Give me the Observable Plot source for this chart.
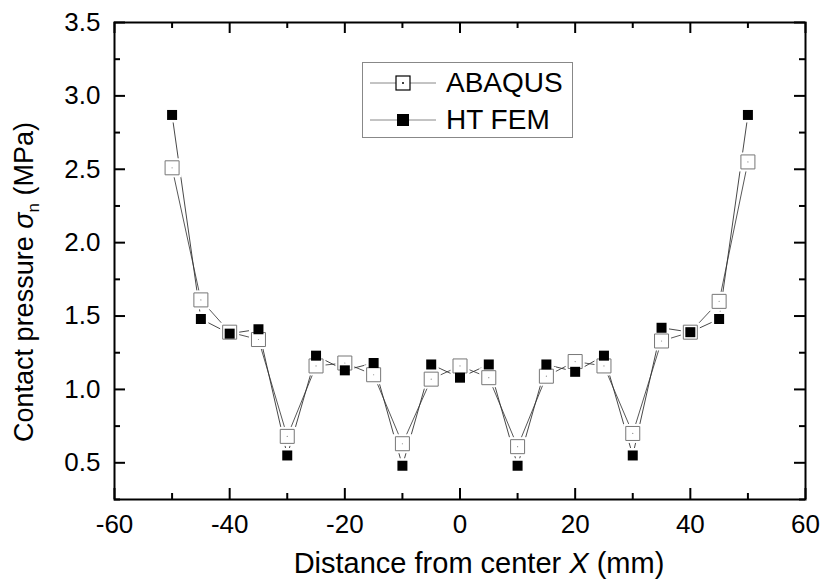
<!DOCTYPE html>
<html>
<head>
<meta charset="utf-8">
<script src="https://cdn.jsdelivr.net/npm/d3@7"></script>
<script src="https://cdn.jsdelivr.net/npm/@observablehq/plot@0.6"></script>
<style>
  html, body { margin: 0; padding: 0; background: #fff; }
  #wrap { position: relative; width: 822px; height: 580px; font-family: "Liberation Sans", Arial, Helvetica, sans-serif; }
  #legend { position: absolute; left: 362px; top: 62px; width: 209px; height: 74px; border: 1px solid #888; background: #fff; }
  #legend .row { position: absolute; left: 0; height: 36px; display: flex; align-items: center; }
  #legend .lab { font-size: 28px; color: #000; margin-left: 10px; line-height: 1; }
</style>
</head>
<body>
<div id="wrap"></div>
<script>
// ---- data ----
const xPos = [-50, -45, -40, -35, -30, -25, -20, -15, -10, -5, 0, 5, 10, 15, 20, 25, 30, 35, 40, 45, 50];
const abaqus = [2.51, 1.61, 1.39, 1.34, 0.68, 1.16, 1.18, 1.10, 0.63, 1.07, 1.16, 1.08, 0.61, 1.09, 1.19, 1.16, 0.70, 1.33, 1.39, 1.60, 2.55];
const htfem  = [2.87, 1.48, 1.38, 1.41, 0.55, 1.23, 1.13, 1.18, 0.48, 1.17, 1.08, 1.17, 0.48, 1.17, 1.12, 1.23, 0.55, 1.42, 1.39, 1.48, 2.87];
const seriesNames = ["ABAQUS", "HT FEM"];
const xMajor = [-60, -40, -20, 0, 20, 40, 60];
const xMinor = [-50, -30, -10, 10, 30, 50];
const yMajor = [0.5, 1.0, 1.5, 2.0, 2.5, 3.0, 3.5];
const yMinor = [0.25, 0.75, 1.25, 1.75, 2.25, 2.75, 3.25];
const xDomain = [-60, 60];
const yDomain = [0.25, 3.5];

// ---- layout ----
const W = 822, H = 580;
const mL = 114, mR = 17, mT = 22, mB = 81;
const fw = W - mL - mR, fh = H - mT - mB;
const majorLen = 11, minorLen = 6;

const dA = xPos.map((x, i) => ({x, y: abaqus[i]}));
const dH = xPos.map((x, i) => ({x, y: htfem[i]}));

const rOpen = 14 / Math.sqrt(Math.PI);
const rFill = 10 / Math.sqrt(Math.PI);
const rOpenHalo = 19 / Math.sqrt(Math.PI);
const rFillHalo = 15 / Math.sqrt(Math.PI);

const svg = Plot.plot({
  width: W, height: H,
  marginLeft: mL, marginRight: mR, marginTop: mT, marginBottom: mB,
  style: {fontFamily: "'Liberation Sans', Arial, Helvetica, sans-serif", fontSize: "26px", color: "#000", background: "#fff"},
  x: {domain: xDomain, axis: null},
  y: {domain: yDomain, axis: null},
  marks: [
    // lines
    Plot.line(dA, {x: "x", y: "y", stroke: "#444", strokeWidth: 0.9}),
    Plot.line(dH, {x: "x", y: "y", stroke: "#333", strokeWidth: 0.9}),
    // gaps around markers
    Plot.dot(dA, {x: "x", y: "y", symbol: "square", r: rOpenHalo, fill: "white"}),
    Plot.dot(dH, {x: "x", y: "y", symbol: "square", r: rFillHalo, fill: "white"}),
    // markers
    Plot.dot(dA, {x: "x", y: "y", symbol: "square", r: rOpen, fill: "white", stroke: "#777", strokeWidth: 1}),
    Plot.dot(dA, {x: "x", y: "y", r: 0.6, fill: "#888"}),
    Plot.dot(dH, {x: "x", y: "y", symbol: "square", r: rFill, fill: "black"}),
    // inward ticks
    Plot.tickX(xMajor, {x: d => d, insetTop: fh - majorLen, stroke: "black", strokeWidth: 2}),
    Plot.tickX(xMinor, {x: d => d, insetTop: fh - minorLen, stroke: "black", strokeWidth: 2}),
    Plot.tickX(xMajor, {x: d => d, insetBottom: fh - majorLen, stroke: "black", strokeWidth: 2}),
    Plot.tickX(xMinor, {x: d => d, insetBottom: fh - minorLen, stroke: "black", strokeWidth: 2}),
    Plot.tickY(yMajor, {y: d => d, insetRight: fw - majorLen, stroke: "black", strokeWidth: 2}),
    Plot.tickY(yMinor, {y: d => d, insetRight: fw - minorLen, stroke: "black", strokeWidth: 2}),
    Plot.tickY(yMajor, {y: d => d, insetLeft: fw - majorLen, stroke: "black", strokeWidth: 2}),
    Plot.tickY(yMinor, {y: d => d, insetLeft: fw - minorLen, stroke: "black", strokeWidth: 2}),
    Plot.frame({stroke: "black", strokeWidth: 2}),
    // tick labels
    Plot.axisX(xMajor, {anchor: "bottom", tickSize: 0, tickPadding: 15, tickFormat: d => String(d), fontSize: 26, label: null}),
    Plot.axisY(yMajor, {anchor: "left", tickSize: 0, tickPadding: 14, tickFormat: d3.format(".1f"), fontSize: 26, label: null})
  ]
});

// axis titles
const s = d3.select(svg);
const xt = s.append("text")
  .attr("x", 479).attr("y", 573)
  .attr("text-anchor", "middle")
  .attr("font-size", 29).attr("fill", "#000");
xt.append("tspan").text("Distance from center ");
xt.append("tspan").attr("font-style", "italic").text("X");
xt.append("tspan").text(" (mm)");

const yt = s.append("text")
  .attr("transform", "translate(33,282) rotate(-90)")
  .attr("text-anchor", "middle")
  .attr("font-size", 27).attr("fill", "#000");
yt.append("tspan").text("Contact pressure ");
yt.append("tspan").attr("font-style", "italic").text("σ");
yt.append("tspan").attr("font-size", 17).attr("dy", 6).text("n");
yt.append("tspan").attr("dy", -6).text(" (MPa)");

const wrap = document.getElementById("wrap");
wrap.appendChild(svg);

// legend
const leg = document.createElement("div");
leg.id = "legend";
const symbols = [
  `<svg width="66" height="20"><line x1="0" y1="10" x2="66" y2="10" stroke="#888" stroke-width="1"/><rect x="26" y="3" width="14" height="14" fill="white" stroke="#000" stroke-width="1.2"/><circle cx="33" cy="10" r="1" fill="#000"/></svg>`,
  `<svg width="66" height="20"><line x1="0" y1="10" x2="66" y2="10" stroke="#888" stroke-width="1"/><rect x="27" y="4" width="12" height="12" fill="black"/></svg>`
];
seriesNames.forEach((name, i) => {
  const row = document.createElement("div");
  row.className = "row";
  row.style.left = "7px";
  row.style.top = (i === 0 ? 2 : 39) + "px";
  row.innerHTML = symbols[i] + `<span class="lab">${name}</span>`;
  leg.appendChild(row);
});
wrap.appendChild(leg);
</script>
</body>
</html>
